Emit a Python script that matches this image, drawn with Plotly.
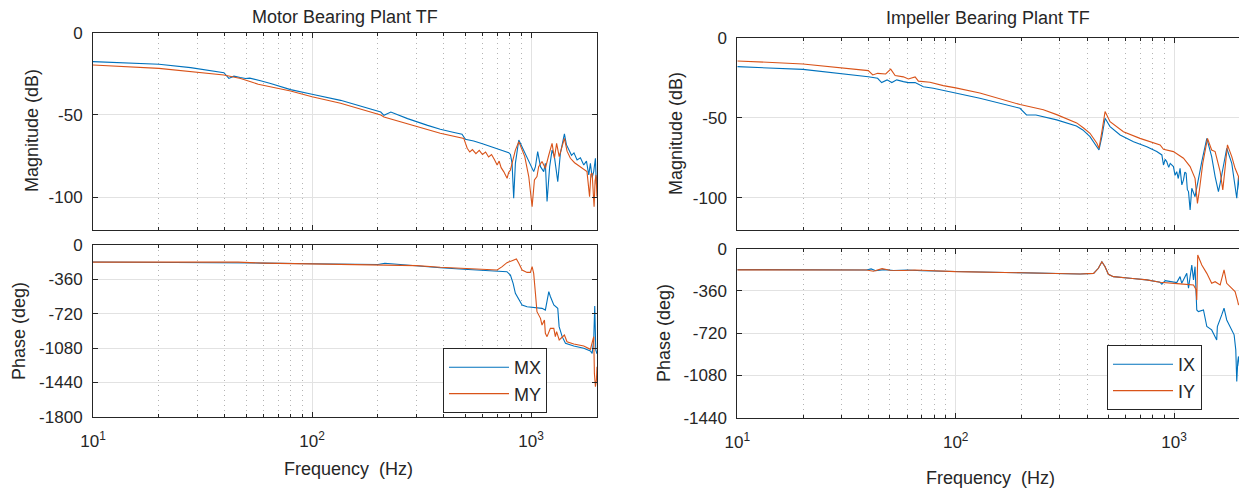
import numpy as np
import plotly.graph_objects as go

# ---------------- data ----------------
# Motor bearing, magnitude (dB)
mx_mag_f = [10, 20, 27.9, 39.6, 41.7, 44, 47, 49.7, 52, 54.3, 58.2, 64.7, 71.9, 79.8, 100, 135, 206, 213, 229,
            273, 337, 385, 440, 484, 501, 547, 600, 652, 720, 791, 805, 819, 833, 848, 879, 926, 976, 1028,
            1047, 1072, 1104, 1142, 1162, 1183, 1216, 1247, 1278, 1324, 1361, 1420, 1450, 1486, 1530, 1570,
            1622, 1680, 1740, 1790, 1834, 1866, 1900, 1932, 1950, 1967, 1985, 2000]
mx_mag = [-17.6, -19.2, -21.2, -24.3, -27.8, -26.4, -27.2, -27.8, -27.6, -28.4, -29.2, -30.9, -32.9, -34.6,
          -37.4, -41.1, -48.2, -50.2, -48.2, -52.2, -56.3, -58.7, -60.5, -61.7, -64.8, -65.8, -67.5, -69.2,
          -71.0, -72.9, -74.0, -79.4, -100.6, -79.4, -65.2, -71.3, -77.3, -84.4, -81.4, -72.3, -81.4, -84.4,
          -79.4, -102.6, -81.4, -71.3, -75.3, -90.5, -73.3, -61.5, -68.0, -71.3, -74.5, -73.0, -77.3, -76.0,
          -80.4, -78.0, -86.4, -79.4, -88.0, -84.4, -78.0, -76.3, -92.0, -87.4]

my_mag_f = [10, 20, 39.6, 42, 47.2, 52.5, 56.8, 79.8, 100, 135, 206, 213, 245, 325, 385, 493, 511, 525, 540,
            560, 580, 600, 620, 640, 660, 680, 700, 715, 730, 750, 765, 777, 790, 805, 848, 879, 936, 976,
            1011, 1036, 1064, 1083, 1122, 1162, 1205, 1247, 1278, 1308, 1344, 1420, 1460, 1512, 1580, 1679,
            1740, 1800, 1850, 1875, 1900, 1940, 1960, 1980, 2000]
my_mag = [-19.6, -21.7, -25.7, -26.5, -27.8, -29.8, -31.3, -35.4, -38.9, -42.9, -50.0, -51.2, -53.6, -58.3,
          -61.1, -64.2, -70.2, -72.5, -71.0, -73.5, -71.5, -74.0, -72.5, -75.5, -74.0, -77.0, -80.4, -78.0,
          -82.0, -84.4, -86.5, -88.5, -85.0, -83.4, -71.3, -66.2, -75.3, -87.4, -105.7, -89.4, -87.4, -81.4,
          -78.3, -82.4, -74.3, -67.2, -76.3, -67.2, -75.3, -64.2, -72.0, -76.3, -79.0, -81.4, -83.0, -84.4,
          -99.6, -86.0, -85.4, -105.7, -90.0, -86.4, -99.6]

# Motor bearing, phase (deg)
mx_ph_f = [10, 20, 39, 42, 45, 60, 100, 150, 200, 215, 230, 300, 385, 493, 588, 687, 776, 805, 828, 848,
           879, 910, 959, 1047, 1122, 1162, 1183, 1205, 1225, 1270, 1324, 1343, 1387, 1436, 1567, 1740,
           1866, 1900, 1932, 1953, 1974, 2000]
mx_ph = [-178, -180, -183, -190, -184, -190, -196, -200, -205, -192, -198, -215, -238, -255, -262, -269,
         -280, -315, -402, -507, -577, -629, -647, -657, -664, -682, -577, -489, -540, -629, -664, -856,
         -961, -1031, -1059, -1083, -1111, -1136, -996, -640, -1100, -1140]

my_ph_f = [10, 39, 42, 46, 60, 100, 200, 300, 385, 547, 700, 738, 776, 819, 857, 879, 910, 959, 993, 1011,
           1028, 1047, 1064, 1104, 1122, 1151, 1162, 1183, 1225, 1270, 1291, 1308, 1344, 1420, 1459, 1567,
           1740, 1866, 1900, 1932, 1946, 1967, 1988, 2000]
my_ph = [-180, -183, -187, -180, -190, -197, -206, -216, -234, -255, -262, -227, -185, -164, -147, -192,
         -262, -287, -287, -227, -297, -507, -699, -769, -839, -786, -926, -961, -874, -874, -961, -909,
         -996, -944, -1014, -1038, -1059, -1094, -1031, -961, -1346, -1485, -1415, -1276]

# Impeller bearing, magnitude (dB)
ix_mag_f = [10, 20, 39.8, 43.9, 45.8, 48.5, 51.0, 53.7, 57.6, 60.8, 65.2, 71.1, 79, 100, 129, 197, 211,
            233, 290, 357, 382, 412, 443, 453, 467, 483, 509, 566, 652, 750, 833, 879, 894, 910, 925, 945,
            960, 993, 1010, 1028, 1045, 1065, 1085, 1104, 1120, 1135, 1150, 1164, 1184, 1205, 1247, 1279,
            1339, 1412, 1486, 1541, 1596, 1625, 1671, 1742, 1837, 1902, 1936, 1972, 1990]
ix_mag = [-17.8, -19.5, -24.1, -25.1, -27.8, -26.1, -27.8, -26.1, -27.2, -27.8, -27.8, -30.4, -31.4, -34.5,
          -37.6, -43.9, -48.1, -48.1, -51.2, -55.0, -57.5, -61.7, -68.0, -70.1, -61.7, -50.2, -55.4, -60.7,
          -64.9, -68.0, -71.1, -73.2, -79.5, -76.0, -77.4, -81.0, -78.5, -80.5, -86.0, -83.7, -88.0, -81.6,
          -92.0, -88.9, -84.0, -84.7, -95.0, -96.2, -107.7, -94.1, -99.4, -91.0, -77.4, -62.8, -74.3, -86.8,
          -96.2, -91.0, -82.6, -69.0, -78.5, -93.1, -100.4, -86.8, -95.0]

iy_mag_f = [10, 20, 39.8, 41.7, 43.9, 47.8, 50.4, 52.8, 57.6, 60.7, 65.2, 67.5, 76.2, 87.7, 100, 129, 197,
            252, 290, 358, 385, 412, 443, 453, 467, 483, 509, 586, 698, 863, 894, 993, 1104, 1184, 1247,
            1279, 1306, 1353, 1422, 1486, 1541, 1625, 1671, 1714, 1755, 1837, 1902, 1972, 1990]
iy_mag = [-14.2, -16.1, -20.3, -23.0, -22.0, -22.4, -19.4, -23.4, -24.2, -25.5, -24.2, -26.9, -27.6, -29.7,
          -31.1, -34.3, -41.6, -44.8, -47.9, -53.1, -56.3, -59.6, -65.9, -69.0, -58.6, -46.0, -52.3, -58.6,
          -62.8, -66.9, -69.7, -71.1, -75.3, -80.5, -87.9, -103.6, -95.2, -78.5, -62.8, -70.1, -71.1, -83.7,
          -95.2, -81.6, -66.9, -74.3, -81.6, -86.8, -90.0]

# Impeller bearing, phase (deg)
ix_ph_f = [10, 20, 39, 41, 43, 47, 52, 60, 70, 100, 200, 300, 371, 428, 450, 467, 483, 500, 527, 629, 750,
           863, 879, 910, 959, 1028, 1065, 1084, 1143, 1164, 1205, 1227, 1247, 1270, 1292, 1363, 1412, 1486,
           1567, 1578, 1652, 1693, 1742, 1837, 1883, 1916, 1936, 1957, 1972, 1990]
ix_ph = [-178, -179, -181, -172, -188, -178, -186, -182, -188, -194, -205, -212, -215, -210, -167, -111,
         -153, -218, -238, -252, -266, -286, -303, -272, -281, -289, -238, -295, -210, -337, -139, -266,
         -153, -522, -536, -522, -663, -692, -777, -663, -564, -507, -607, -692, -734, -862, -1131, -960,
         -918, -1000]

iy_ph_f = [10, 39, 42, 46, 50, 58, 65, 100, 200, 300, 371, 428, 450, 467, 483, 500, 527, 629, 750, 863,
           959, 1065, 1227, 1261, 1270, 1283, 1339, 1412, 1486, 1541, 1625, 1693, 1742, 1837, 1902, 1949,
           1972, 1990]
iy_ph = [-180, -181, -192, -170, -183, -186, -181, -195, -205, -213, -215, -210, -167, -111, -153, -218,
         -238, -252, -266, -286, -295, -300, -309, -350, -437, -54, -139, -210, -295, -281, -309, -181,
         -295, -337, -366, -437, -479, -470]

titles = ["Motor Bearing Plant TF", "Impeller Bearing Plant TF"]
legend_names = [["MX", "MY"], ["IX", "IY"]]
xtick_vals = [10, 100, 1000]
xtick_text = ["10<sup>1</sup>", "10<sup>2</sup>", "10<sup>3</sup>"]
minor_vals = [m * 10 ** d for d in (1, 2, 3) for m in range(2, 10) if m * 10 ** d <= 2000]
mag_ticks = [-100, -50, 0]
phase_ticks_left = [-1800, -1440, -1080, -720, -360, 0]
phase_ticks_right = [-1440, -1080, -720, -360, 0]

# ---------------- figure ----------------
W, H = 1239, 488
BLUE, ORANGE = "#0072BD", "#D95319"
INK = "#262626"
FONT = "Liberation Sans, Arial, Helvetica, sans-serif"

def px_x(p):
    return p / W

def px_y(p):
    return 1 - p / H

fig = go.Figure()
series = [
    ("x", "y", mx_mag_f, mx_mag, BLUE, legend_names[0][0], None),
    ("x", "y", my_mag_f, my_mag, ORANGE, legend_names[0][1], None),
    ("x2", "y2", mx_ph_f, mx_ph, BLUE, legend_names[0][0], "legend"),
    ("x2", "y2", my_ph_f, my_ph, ORANGE, legend_names[0][1], "legend"),
    ("x3", "y3", ix_mag_f, ix_mag, BLUE, legend_names[1][0], None),
    ("x3", "y3", iy_mag_f, iy_mag, ORANGE, legend_names[1][1], None),
    ("x4", "y4", ix_ph_f, ix_ph, BLUE, legend_names[1][0], "legend2"),
    ("x4", "y4", iy_ph_f, iy_ph, ORANGE, legend_names[1][1], "legend2"),
]
for xa, ya, f, v, col, name, leg in series:
    fig.add_trace(go.Scatter(
        x=f, y=v, xaxis=xa, yaxis=ya, mode="lines", name=name,
        line=dict(color=col, width=1.1),
        showlegend=leg is not None, legend=leg if leg else "legend",
    ))

def xaxis_style(dom, rng, labels):
    return dict(
        type="log", domain=dom, range=rng, automargin=False,
        tickmode="array", tickvals=xtick_vals, ticktext=xtick_text,
        showticklabels=labels, ticks="inside", ticklen=5, tickcolor=INK,
        showline=True, linecolor=INK, linewidth=1, mirror="ticks",
        showgrid=True, gridcolor="#e2e2e2", gridwidth=1,
        minor=dict(tickmode="array", tickvals=minor_vals, ticks="inside", ticklen=3,
                   tickcolor=INK, showgrid=True, gridcolor="#b4b4b4", griddash="1px,4px", gridwidth=1),
        tickfont=dict(family=FONT, size=17, color=INK),
        ticklabelstandoff=9, zeroline=False, fixedrange=True,
    )

def yaxis_style(dom, rng, tvals, anchor, mirror):
    return dict(
        domain=dom, range=rng, anchor=anchor, automargin=False,
        tickmode="array", tickvals=tvals, ticktext=[str(t) for t in tvals],
        ticks="inside", ticklen=5, tickcolor=INK,
        showline=True, linecolor=INK, linewidth=1, mirror=mirror,
        showgrid=True, gridcolor="#e2e2e2", gridwidth=1, zeroline=False,
        tickfont=dict(family=FONT, size=17, color=INK), ticklabelstandoff=6,
        fixedrange=True,
    )

Lx = [px_x(93), px_x(597)]
Rx = [px_x(737.3), 1.0]
rng_left = [1, np.log10(2000)]
rng_right = [1, 1 + (W - 737.3) / 218.4]

fig.update_layout(
    width=W, height=H, margin=dict(l=0, r=0, t=0, b=0, autoexpand=False),
    paper_bgcolor="white", plot_bgcolor="white",
    font=dict(family=FONT, color=INK),
    xaxis=dict(xaxis_style(Lx, rng_left, False), anchor="y"),
    yaxis=yaxis_style([px_y(230.2), px_y(32.7)], [-120, 0], mag_ticks, "x", "ticks"),
    xaxis2=dict(xaxis_style(Lx, rng_left, True), anchor="y2"),
    yaxis2=yaxis_style([px_y(416.7), px_y(245)], [-1800, 0], phase_ticks_left, "x2", "ticks"),
    xaxis3=dict(xaxis_style(Rx, rng_right, False), anchor="y3"),
    yaxis3=yaxis_style([px_y(229.5), px_y(38.3)], [-120, 0], mag_ticks, "x3", False),
    xaxis4=dict(xaxis_style(Rx, rng_right, True), anchor="y4"),
    yaxis4=yaxis_style([px_y(417.7), px_y(248.7)], [-1440, 0], phase_ticks_right, "x4", False),
    legend=dict(x=px_x(443), y=px_y(348), xanchor="left", yanchor="top",
                bordercolor=INK, borderwidth=1, bgcolor="white",
                font=dict(family=FONT, size=18, color=INK), itemwidth=60, tracegroupgap=0),
    legend2=dict(x=px_x(1107), y=px_y(345), xanchor="left", yanchor="top",
                 bordercolor=INK, borderwidth=1, bgcolor="white",
                 font=dict(family=FONT, size=18, color=INK), itemwidth=60, tracegroupgap=0),
    showlegend=True,
)

annos = [
    (titles[0], 345, 17, 0, 18),
    (titles[1], 988, 18, 0, 18),
    ("Frequency  (Hz)", 348, 469, 0, 18),
    ("Frequency  (Hz)", 990, 478, 0, 18),
    ("Magnitude (dB)", 32, 131, -90, 18),
    ("Phase (deg)", 19, 331, -90, 18),
    ("Magnitude (dB)", 676, 134, -90, 18),
    ("Phase (deg)", 664, 333, -90, 18),
]
for text, x, y, ang, size in annos:
    fig.add_annotation(text=text, x=px_x(x), y=px_y(y), xref="paper", yref="paper",
                       xanchor="center", yanchor="middle", showarrow=False, textangle=ang,
                       font=dict(family=FONT, size=size, color=INK))

fig.write_html("out.html")
